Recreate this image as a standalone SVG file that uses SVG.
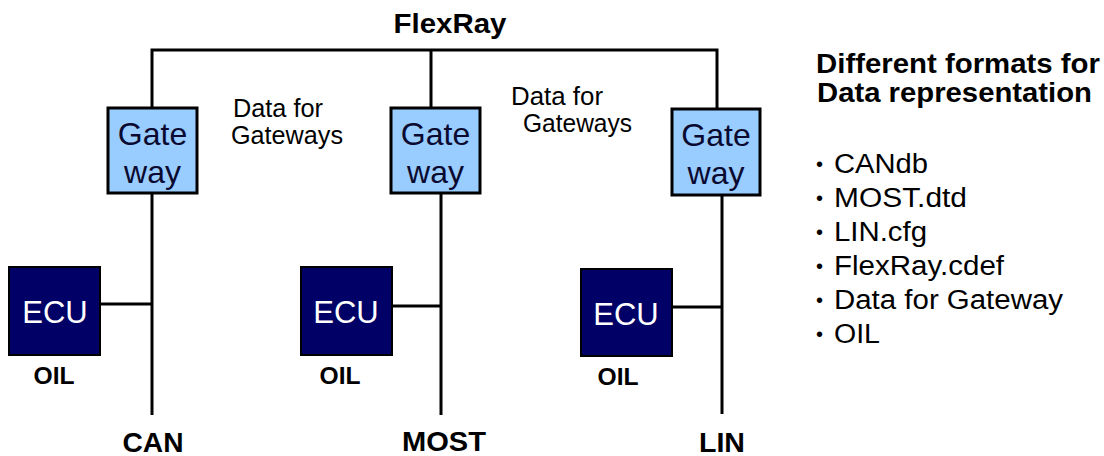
<svg xmlns="http://www.w3.org/2000/svg" width="1104" height="456" viewBox="0 0 1104 456">
  <style>
    text { font-family: "Liberation Sans", Arial, sans-serif; fill: #000; }
    .bus { font-size: 28px; font-weight: bold; text-anchor: middle; }
    .note { font-size: 25px; }
    .gw-box { fill: #99CCFF; stroke: #000; stroke-width: 3; }
    .gw-txt { font-size: 32px; fill: #0a0a30; text-anchor: middle; }
    .ecu-box { fill: #000066; stroke: #000; stroke-width: 2; }
    .ecu-txt { font-size: 31px; fill: #fff; text-anchor: middle; }
    .oil { font-size: 24px; font-weight: bold; text-anchor: middle; }
    .head { font-size: 28px; font-weight: bold; }
    .item { font-size: 27px; }
    .dot { font-size: 20px; }
    .wire { fill: none; stroke: #000; stroke-width: 3; }
  </style>

  <!-- bus wiring -->
  <g id="connectors">
    <polyline class="wire" points="152,108 152,50 717,50 717,108"/>
    <line class="wire" x1="431" y1="50" x2="431" y2="108"/>
    <line class="wire" x1="152" y1="193" x2="152" y2="415"/>
    <line class="wire" x1="441" y1="193" x2="441" y2="415"/>
    <line class="wire" x1="722" y1="195" x2="722" y2="414"/>
    <line class="wire" x1="100" y1="304" x2="152" y2="304"/>
    <line class="wire" x1="392" y1="306" x2="441" y2="306"/>
    <line class="wire" x1="672" y1="307" x2="722" y2="307"/>
  </g>

  <!-- bus names -->
  <g id="bus-labels">
    <text class="bus" x="450" y="33" textLength="113" lengthAdjust="spacingAndGlyphs">FlexRay</text>
    <text class="bus" x="153" y="452" textLength="61" lengthAdjust="spacingAndGlyphs">CAN</text>
    <text class="bus" x="444" y="451" textLength="84" lengthAdjust="spacingAndGlyphs">MOST</text>
    <text class="bus" x="722" y="452" textLength="46" lengthAdjust="spacingAndGlyphs">LIN</text>
  </g>

  <!-- gateway data notes -->
  <g id="note-left">
    <text class="note" x="233" y="117" textLength="90" lengthAdjust="spacingAndGlyphs">Data for</text>
    <text class="note" x="231" y="144" textLength="112" lengthAdjust="spacingAndGlyphs">Gateways</text>
  </g>
  <g id="note-right">
    <text class="note" x="511" y="105" textLength="92" lengthAdjust="spacingAndGlyphs">Data for</text>
    <text class="note" x="523" y="132" textLength="109" lengthAdjust="spacingAndGlyphs">Gateways</text>
  </g>

  <!-- gateways -->
  <g id="gateway-can">
    <rect class="gw-box" x="108" y="108" width="89" height="85"/>
    <text class="gw-txt" x="152.5" y="145">Gate</text>
    <text class="gw-txt" x="152.5" y="183">way</text>
  </g>
  <g id="gateway-most">
    <rect class="gw-box" x="391" y="108" width="89" height="85"/>
    <text class="gw-txt" x="435.5" y="145">Gate</text>
    <text class="gw-txt" x="435.5" y="183">way</text>
  </g>
  <g id="gateway-lin">
    <rect class="gw-box" x="672" y="109" width="88" height="86"/>
    <text class="gw-txt" x="716" y="146">Gate</text>
    <text class="gw-txt" x="716" y="184">way</text>
  </g>

  <!-- ECUs -->
  <g id="ecu-can">
    <rect class="ecu-box" x="9" y="267" width="91" height="88"/>
    <text class="ecu-txt" x="55" y="323">ECU</text>
    <text class="oil" x="54" y="384" textLength="41" lengthAdjust="spacingAndGlyphs">OIL</text>
  </g>
  <g id="ecu-most">
    <rect class="ecu-box" x="301" y="267" width="91" height="88"/>
    <text class="ecu-txt" x="346" y="323">ECU</text>
    <text class="oil" x="340" y="384" textLength="41" lengthAdjust="spacingAndGlyphs">OIL</text>
  </g>
  <g id="ecu-lin">
    <rect class="ecu-box" x="581" y="269" width="91" height="87"/>
    <text class="ecu-txt" x="626" y="325">ECU</text>
    <text class="oil" x="618" y="385" textLength="41" lengthAdjust="spacingAndGlyphs">OIL</text>
  </g>

  <!-- format list -->
  <g id="formats">
    <text class="head" x="816" y="73" textLength="284" lengthAdjust="spacingAndGlyphs">Different formats for</text>
    <text class="head" x="817" y="102" textLength="275" lengthAdjust="spacingAndGlyphs">Data representation</text>
    <text class="dot" x="816" y="171">•</text>
    <text class="item" x="834" y="173" textLength="94" lengthAdjust="spacingAndGlyphs">CANdb</text>
    <text class="dot" x="816" y="205">•</text>
    <text class="item" x="834" y="207" textLength="133" lengthAdjust="spacingAndGlyphs">MOST.dtd</text>
    <text class="dot" x="816" y="239">•</text>
    <text class="item" x="834" y="241" textLength="93" lengthAdjust="spacingAndGlyphs">LIN.cfg</text>
    <text class="dot" x="816" y="273">•</text>
    <text class="item" x="834" y="275" textLength="170" lengthAdjust="spacingAndGlyphs">FlexRay.cdef</text>
    <text class="dot" x="816" y="307">•</text>
    <text class="item" x="834" y="309" textLength="229" lengthAdjust="spacingAndGlyphs">Data for Gateway</text>
    <text class="dot" x="816" y="341">•</text>
    <text class="item" x="834" y="343" textLength="46" lengthAdjust="spacingAndGlyphs">OIL</text>
  </g>
</svg>
